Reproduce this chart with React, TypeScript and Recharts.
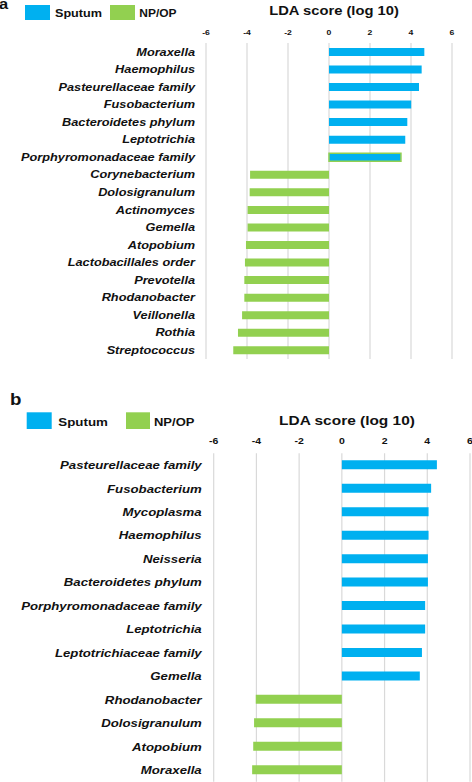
import React from 'react';
import { BarChart, Bar, XAxis, YAxis, CartesianGrid, Cell } from 'recharts';

const categoriesA = [
  'Moraxella', 'Haemophilus', 'Pasteurellaceae family', 'Fusobacterium', 'Bacteroidetes phylum',
  'Leptotrichia', 'Porphyromonadaceae family', 'Corynebacterium', 'Dolosigranulum', 'Actinomyces',
  'Gemella', 'Atopobium', 'Lactobacillales order', 'Prevotella', 'Rhodanobacter', 'Veillonella',
  'Rothia', 'Streptococcus',
];
const scoresA = [4.65, 4.52, 4.39, 4.01, 3.82, 3.72, 3.51, -3.85, -3.87, -3.97, -3.97, -4.05, -4.1, -4.13, -4.13, -4.24, -4.44, -4.67];

const categoriesB = [
  'Pasteurellaceae family', 'Fusobacterium', 'Mycoplasma', 'Haemophilus', 'Neisseria',
  'Bacteroidetes phylum', 'Porphyromonadaceae family', 'Leptotrichia', 'Leptotrichiaceae family',
  'Gemella', 'Rhodanobacter', 'Dolosigranulum', 'Atopobium', 'Moraxella',
];
const scoresB = [4.45, 4.18, 4.06, 4.06, 4.03, 4.03, 3.9, 3.9, 3.75, 3.65, -4.03, -4.11, -4.15, -4.2];

const xTicks = [-6, -4, -2, 0, 2, 4, 6];
const seriesNames = ['Sputum', 'NP/OP'];
const axisTitle = 'LDA score (log 10)';
const outlinedA = 'Porphyromonadaceae family';

const BLUE = '#00B0F0';
const GREEN = '#92D050';
const FONT = '"Liberation Sans", Arial, Helvetica, sans-serif';

const buildRows = (cats: string[], scores: number[]) =>
  cats.map((name, i) => ({
    name,
    sputum: scores[i] > 0 ? scores[i] : 0,
    npop: scores[i] < 0 ? scores[i] : 0,
  }));

const dataA = buildRows(categoriesA, scoresA);
const dataB = buildRows(categoriesB, scoresB);

const makeYTick = (fs: number, sx: number) => (props: any) => {
  const { x, y, payload } = props;
  return (
    <g transform={`translate(${x},${y})`}>
      <text
        transform={`scale(${sx},1)`}
        textAnchor="end"
        dy="0.36em"
        fontSize={fs}
        fontWeight="bold"
        fontStyle="italic"
        fill="#111"
        fontFamily={FONT}
      >
        {payload.value}
      </text>
    </g>
  );
};

const makeXTick = (fs: number, sx: number) => (props: any) => {
  const { x, y, payload } = props;
  return (
    <g transform={`translate(${x},${y})`}>
      <text transform={`scale(${sx},1)`} textAnchor="middle" fontSize={fs} fontWeight="bold" fill="#111" fontFamily={FONT}>
        {payload.value}
      </text>
    </g>
  );
};

type PanelProps = {
  data: any[];
  top: number;
  height: number;
  margin: any;
  yWidth: number;
  yTickMargin: number;
  xTickMargin: number;
  barSize: number;
  yTick: any;
  xTick: any;
  outlined?: string;
};

const Panel = ({ data, top, height, margin, yWidth, yTickMargin, xTickMargin, barSize, yTick, xTick, outlined }: PanelProps) => (
  <div style={{ position: 'absolute', left: 0, top, width: 472, height }}>
    <BarChart width={472} height={height} data={data} layout="vertical" margin={margin} stackOffset="sign">
      <CartesianGrid horizontal={false} vertical stroke="#d9d9d9" strokeWidth={1.2} />
      <XAxis
        type="number"
        orientation="top"
        domain={[-6, 6]}
        ticks={xTicks}
        allowDataOverflow
        axisLine={false}
        tickLine={false}
        tickMargin={xTickMargin}
        height={30}
        tick={xTick}
        interval={0}
      />
      <YAxis
        type="category"
        dataKey="name"
        width={yWidth}
        axisLine={false}
        tickLine={false}
        tickMargin={yTickMargin}
        tick={yTick}
        interval={0}
      />
      <Bar dataKey="sputum" name={seriesNames[0]} stackId="s" fill={BLUE} barSize={barSize} isAnimationActive={false}>
        {data.map((d, i) => (
          <Cell
            key={i}
            fill={BLUE}
            stroke={outlined && d.name === outlined ? GREEN : 'none'}
            strokeWidth={outlined && d.name === outlined ? 1.5 : 0}
          />
        ))}
      </Bar>
      <Bar dataKey="npop" name={seriesNames[1]} stackId="s" fill={GREEN} barSize={barSize} isAnimationActive={false} />
    </BarChart>
  </div>
);

const SText = ({ x, y, fs, sx, children, anchor = 'start', weight = 'bold' }: any) => (
  <g transform={`translate(${x},${y})`}>
    <text transform={`scale(${sx},1)`} textAnchor={anchor} fontSize={fs} fontWeight={weight} fill="#111" fontFamily={FONT}>
      {children}
    </text>
  </g>
);

export default function App() {
  return (
    <div style={{ position: 'absolute', left: 0, top: 0, width: 472, height: 782, background: '#fff', overflow: 'hidden' }}>
      <Panel
        data={dataA}
        top={0}
        height={370}
        margin={{ top: 12.9, right: 20, left: 0, bottom: 11.1 }}
        yWidth={206}
        yTickMargin={5}
        xTickMargin={2}
        barSize={8}
        yTick={makeYTick(10.7, 1.19)}
        xTick={makeXTick(7.2, 1.2)}
        outlined={outlinedA}
      />
      <Panel
        data={dataB}
        top={380}
        height={402}
        margin={{ top: 43.3, right: 2, left: 0, bottom: 0.3 }}
        yWidth={213.7}
        yTickMargin={6}
        xTickMargin={3}
        barSize={9}
        yTick={makeYTick(11.3, 1.17)}
        xTick={makeXTick(8.4, 1.25)}
      />
      <svg width={472} height={782} style={{ position: 'absolute', left: 0, top: 0, pointerEvents: 'none' }}>
        {/* panel a header */}
        <SText x={-1} y={9} fs={15} sx={1.1}>a</SText>
        <rect x={25} y={5} width={25} height={15} fill={BLUE} />
        <SText x={55} y={16.5} fs={10.7} sx={1.18}>{seriesNames[0]}</SText>
        <rect x={110} y={5} width={25} height={15} fill={GREEN} />
        <SText x={139.3} y={16.5} fs={10.7} sx={1.12}>{seriesNames[1]}</SText>
        <SText x={334} y={15} fs={12.6} sx={1.17} anchor="middle">{axisTitle}</SText>
        {/* panel b header */}
        <SText x={10} y={405} fs={17} sx={1.1}>b</SText>
        <rect x={26.7} y={412.3} width={25} height={16.7} fill={BLUE} />
        <SText x={58.3} y={425.7} fs={11.3} sx={1.18}>{seriesNames[0]}</SText>
        <rect x={126} y={412.3} width={24} height={16.7} fill={GREEN} />
        <SText x={154} y={425.7} fs={11.3} sx={1.15}>{seriesNames[1]}</SText>
        <SText x={347} y={425} fs={13.2} sx={1.17} anchor="middle">{axisTitle}</SText>
      </svg>
    </div>
  );
}
